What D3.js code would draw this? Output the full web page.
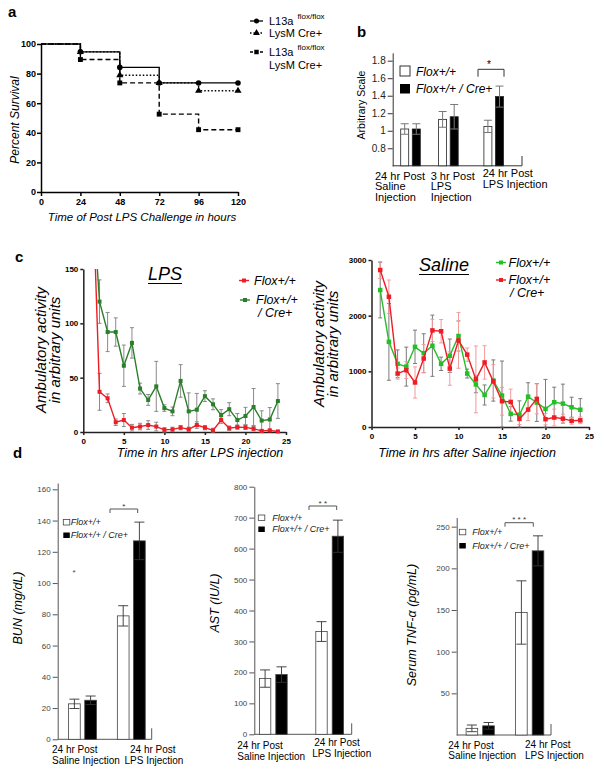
<!DOCTYPE html>
<html><head><meta charset="utf-8">
<script src="https://cdn.jsdelivr.net/npm/d3@7"></script>
<style>
body{margin:0;background:#fff;}
svg{display:block;}
</style></head><body>
<svg id="fig" width="604" height="775"></svg>
<script>
// ================= DATA =================
// Panel a : Kaplan-Meier survival
const survHours    = [0, 24, 48, 72, 96, 120];
const survFloxFlox = [100, 94.7, 84.2, 73.7, 73.7, 73.7];
const survLysMCre  = [100, 94.7, 78.9, 73.7, 68.4, 68.4];
const survFloxLysM = [100, 89.5, 73.7, 52.6, 42.1, 42.1];
const survXTicks   = [0, 24, 48, 72, 96, 120];
const survYTicks   = [0, 20, 40, 60, 80, 100];

// Panel b
const bCats     = ["24h Saline", "3h LPS", "24h LPS"];
const bCatLines = [["24 hr Post", "Saline", "Injection"], ["3 hr Post", "LPS", "Injection"], ["24 hr Post", "LPS Injection"]];
const bFlox     = [1.02, 1.13, 1.05];
const bFloxErr  = [0.06, 0.09, 0.07];
const bCre      = [1.02, 1.16, 1.39];
const bCreErr   = [0.06, 0.14, 0.12];
const bYTicks   = [0.8, 1, 1.2, 1.4, 1.6, 1.8];

// Panel c
const hours       = [1,2,3,4,5,6,7,8,9,10,11,12,13,14,15,16,17,18,19,20,21,22,23,24];
const cXTicks     = [0, 5, 10, 15, 20, 25];
const lpsFlox     = [260, 37, 31, 9, 11, 4, 5, 6.4, 5, 2, 2.4, 4, 2.5, 6.4, 4, 1.5, 11, 3.5, 4.5, 4.3, 3, 1, 1.5, 0.5];
const lpsFloxErr  = [30, 17, 4, 3, 6, 3, 3, 4, 4, 2, 2, 2, 2, 3, 2, 2, 3, 2, 2, 2, 2, 1, 1, 1];
const lpsCre      = [233, 120, 92, 92, 61, 82, 40, 29.5, 42, 22, 19, 47, 19, 20.5, 33, 25.5, 15.6, 21, 11, 14.7, 23, 10.5, 11.5, 28.5];
const lpsCreErr   = [30, 20, 18, 13, 19, 14, 5, 5, 23, 3, 4, 15, 17, 15, 5, 5, 5, 6, 6, 8, 17, 9, 11, 16];
const lpsYTicks   = [0, 50, 100, 150];
const salFlox     = [2460, 1530, 1135, 1085, 1440, 1325, 1460, 1135, 1280, 1635, 960, 765, 575, 835, 565, 235, 220, 545, 440, 325, 445, 420, 355, 310];
const salFloxErr  = [500, 690, 250, 350, 300, 350, 550, 120, 300, 270, 80, 150, 180, 370, 620, 130, 250, 250, 340, 530, 270, 350, 180, 200];
const salCre      = [2820, 2340, 960, 1020, 800, 1230, 1735, 1720, 1050, 1555, 1300, 855, 1160, 820, 463, 450, 145, 313, 505, 140, 170, 150, 110, 120];
const salCreErr   = [150, 300, 100, 150, 280, 250, 200, 210, 300, 500, 120, 600, 300, 300, 250, 230, 100, 200, 270, 100, 150, 80, 60, 60];
const salYTicks   = [0, 1000, 2000, 3000];

// Panel d
const dCats      = ["Saline", "LPS"];
const bunFlox    = [22.7, 79],  bunFloxErr = [3, 6.5],  bunCre = [25, 127],  bunCreErr = [2.7, 12];
const astFlox    = [180, 332],  astFloxErr = [28, 32],  astCre = [193, 640], astCreErr = [25, 52];
const tnfFlox    = [8, 147],    tnfFloxErr = [4, 38],   tnfCre = [11, 221],  tnfCreErr = [4, 18];
const bunTicks   = [0, 20, 40, 60, 80, 100, 120, 140, 160];
const astTicks   = [0, 100, 200, 300, 400, 500, 600, 700, 800];
const tnfTicks   = [50, 100, 150, 200, 250];

// ================= DRAWING =================
const F = "'Liberation Sans', Arial, Helvetica, sans-serif";
const svg = d3.select('#fig');
svg.append('rect').attr('width', 604).attr('height', 775).attr('fill', '#fff');

function txt(g, x, y, s, o = {}) {
  const t = g.append('text').attr('x', x).attr('y', y).text(s)
    .attr('font-family', F).attr('font-size', o.size || 11).attr('fill', o.fill || '#000');
  if (o.bold) t.attr('font-weight', 'bold');
  if (o.italic) t.attr('font-style', 'italic');
  if (o.anchor) t.attr('text-anchor', o.anchor);
  if (o.rotate) t.attr('transform', `rotate(-90,${x},${y})`);
  return t;
}
function styleAxis(g, o) {
  g.attr('font-family', null).attr('font-size', null);
  g.select('.domain').attr('stroke', o.color || '#000').attr('stroke-width', o.width || 1);
  g.selectAll('.tick line').attr('stroke', o.color || '#000').attr('stroke-width', o.width || 1);
  g.selectAll('.tick text').attr('font-family', F).attr('font-size', o.size || 9)
    .attr('font-weight', o.bold ? 'bold' : 'normal').attr('fill', o.text || '#000');
}

// Panel letters
[['a', 8, 17], ['b', 357, 37], ['c', 15, 262], ['d', 13, 458]].forEach(([l, x, y]) =>
  txt(svg, x, y, l, { size: 15, bold: true }));

// ---------- Panel a ----------
{
  const g = svg.append('g');
  const x = d3.scaleLinear().domain([0, 120]).range([41, 238]);
  const y = d3.scaleLinear().domain([0, 100]).range([192, 44]);
  const xa = g.append('g').attr('transform', 'translate(0,192)')
    .call(d3.axisBottom(x).tickValues(survXTicks).tickSize(4).tickSizeOuter(0).tickPadding(3));
  styleAxis(xa, { width: 1.5, size: 9, bold: true });
  const ya = g.append('g').attr('transform', 'translate(41,0)')
    .call(d3.axisLeft(y).tickValues(survYTicks).tickSize(4).tickSizeOuter(0).tickPadding(1));
  styleAxis(ya, { width: 1.5, size: 9, bold: true });
  txt(g, 142, 221, 'Time of Post LPS Challenge in hours', { size: 11.5, italic: true, anchor: 'middle' });
  txt(g, 19, 120, 'Percent Survival', { size: 12, italic: true, anchor: 'middle', rotate: true });

  const series = [
    { vals: survFloxLysM, dash: '5,3', sym: d3.symbolSquare, size: 24 },
    { vals: survLysMCre, dash: '1.5,2', sym: d3.symbolTriangle, size: 22 },
    { vals: survFloxFlox, dash: null, sym: d3.symbolCircle, size: 24 }
  ];
  const line = d3.line().x(d => x(d[0])).y(d => y(d[1])).curve(d3.curveStepAfter);
  series.forEach(s => {
    const pts = survHours.map((h, i) => [h, s.vals[i]]);
    g.append('path').attr('d', line(pts)).attr('fill', 'none').attr('stroke', '#000')
      .attr('stroke-width', 1.4).attr('stroke-dasharray', s.dash);
    g.selectAll(null).data(pts.slice(1)).enter().append('path')
      .attr('d', d3.symbol().type(s.sym).size(s.size))
      .attr('transform', d => `translate(${x(d[0])},${y(d[1])})`).attr('fill', '#000');
  });
  // legend
  const leg = [
    { y: 21, dash: null, sym: d3.symbolCircle, lines: [['L13a', 'flox/flox']] },
    { y: 33, dash: '1.5,2', sym: d3.symbolTriangle, lines: [['LysM Cre+', null]] },
    { y: 52, dash: '3,2', sym: d3.symbolSquare, lines: [['L13a', 'flox/flox'], ['LysM Cre+', null]] }
  ];
  leg.forEach(l => {
    g.append('line').attr('x1', 250).attr('x2', 263).attr('y1', l.y).attr('y2', l.y)
      .attr('stroke', '#000').attr('stroke-width', 1.3).attr('stroke-dasharray', l.dash);
    g.append('path').attr('d', d3.symbol().type(l.sym).size(20)).attr('transform', `translate(256.5,${l.y})`);
    l.lines.forEach((ln, k) => {
      const t = txt(g, 269, l.y + 4 + k * 13, ln[0], { size: 11 });
      if (ln[1]) t.append('tspan').attr('dx', 4).attr('dy', -6).attr('font-size', 8).text(ln[1]);
    });
  });
}

// ---------- Panel b ----------
{
  const g = svg.append('g');
  const y = d3.scaleLinear().domain([0.6, 1.89]).range([165.8, 52.8]);
  const xc = d3.scaleOrdinal().domain(bCats).range([410.5, 448.4, 493.7]);
  const w = 8, gap = 3.6;
  const ya = g.append('g').attr('transform', 'translate(392.7,0)')
    .call(d3.axisLeft(y).tickValues(bYTicks).tickFormat(d3.format('~g')).tickSize(5).tickSizeOuter(0).tickPadding(2));
  styleAxis(ya, { color: '#333', width: 1, size: 10, text: '#222' });
  g.append('path').attr('d', `M392.7,165.8H522V156`).attr('fill', 'none').attr('stroke', '#333');
  txt(g, 365, 105, 'Arbitrary Scale', { size: 10.5, anchor: 'middle', rotate: true });

  const rows = bCats.map((c, i) => ({ c, i }));
  const ser = [
    { vals: bFlox, err: bFloxErr, fill: '#fff', off: -gap / 2 - w },
    { vals: bCre, err: bCreErr, fill: '#000', off: gap / 2 }
  ];
  ser.forEach(s => {
    g.selectAll(null).data(rows).enter().append('rect')
      .attr('x', d => xc(d.c) + s.off).attr('width', w)
      .attr('y', d => y(s.vals[d.i])).attr('height', d => y(0.6) - y(s.vals[d.i]))
      .attr('fill', s.fill).attr('stroke', '#222').attr('stroke-width', 0.8);
    g.selectAll(null).data(rows).enter().append('path')
      .attr('d', d => {
        const cx = xc(d.c) + s.off + w / 2, t = y(s.vals[d.i] + s.err[d.i]), b = y(s.vals[d.i] - s.err[d.i]);
        return `M${cx},${t}V${b}M${cx - 4},${t}H${cx + 4}M${cx - 4},${b}H${cx + 4}`;
      }).attr('stroke', '#777').attr('stroke-width', 1).attr('fill', 'none');
  });
  g.append('path').attr('d', 'M478,76.7V69.3H504V76.7').attr('fill', 'none').attr('stroke', '#333');
  txt(g, 489, 68, '*', { size: 10, anchor: 'middle' });
  // legend
  g.append('rect').attr('x', 400).attr('y', 66).attr('width', 10).attr('height', 10).attr('fill', '#fff').attr('stroke', '#333');
  g.append('rect').attr('x', 400).attr('y', 84).attr('width', 10).attr('height', 9.5).attr('fill', '#000');
  txt(g, 416, 75.5, 'Flox+/+', { size: 12, italic: true });
  txt(g, 416, 93, 'Flox+/+ / Cre+', { size: 12, italic: true });
  // category labels
  const lx = [375, 430.7, 482.7], ly0 = [179.5, 179.5, 177];
  bCatLines.forEach((ls, i) => ls.forEach((s, k) => txt(g, lx[i], ly0[i] + k * 10.5, s, { size: 11 })));
}

// ---------- Panel c ----------
function activityPanel(o) {
  const g = svg.append('g');
  const x = d3.scaleLinear().domain([0, 25]).range(o.xr);
  const y = d3.scaleLinear().domain(o.yd).range(o.yr);
  const xa = g.append('g').attr('transform', `translate(0,${o.yr[0]})`)
    .call(d3.axisBottom(x).tickValues(cXTicks).tickSize(3).tickSizeOuter(0).tickPadding(3));
  styleAxis(xa, { color: '#222', width: 1.5, size: 8, bold: true });
  const ya = g.append('g').attr('transform', `translate(${o.xr[0]},0)`)
    .call(d3.axisLeft(y).tickValues(o.yt).tickFormat(d3.format('d')).tickSize(3).tickSizeOuter(0).tickPadding(2));
  styleAxis(ya, { color: '#222', width: 1.5, size: 8, bold: true });
  const cid = 'clip' + o.id;
  g.append('clipPath').attr('id', cid).append('rect')
    .attr('x', o.xr[0]).attr('y', o.yr[1]).attr('width', o.xr[1] - o.xr[0] + 10).attr('height', o.yr[0] - o.yr[1] + 5);
  const pg = g.append('g').attr('clip-path', `url(#${cid})`);
  const line = d3.line().x(d => x(d.h)).y(d => y(d.v));
  // error bars first
  o.series.forEach(s => {
    const pts = hours.map((h, i) => ({ h, v: s.vals[i], e: s.err[i] }));
    pg.selectAll(null).data(pts).enter().append('path')
      .attr('d', d => {
        const cx = x(d.h), t = y(d.v + d.e), b = y(Math.max(0, d.v - d.e));
        return `M${cx},${t}V${b}M${cx - 2},${t}H${cx + 2}M${cx - 2},${b}H${cx + 2}`;
      }).attr('stroke', s.errColor).attr('stroke-width', 1).attr('fill', 'none');
  });
  o.series.forEach(s => {
    const pts = hours.map((h, i) => ({ h, v: s.vals[i] }));
    pg.append('path').attr('d', line(pts)).attr('fill', 'none').attr('stroke', s.color).attr('stroke-width', 1.4);
    pg.selectAll(null).data(pts).enter().append('rect')
      .attr('x', d => x(d.h) - s.ms / 2).attr('y', d => y(d.v) - s.ms / 2)
      .attr('width', s.ms).attr('height', s.ms).attr('fill', s.color);
  });
  // title
  const tt = txt(g, o.title[1], o.title[2], o.title[0], { size: 18, italic: true, anchor: 'middle' });
  const tw = tt.node().getComputedTextLength();
  g.append('line').attr('x1', o.title[1] - tw / 2).attr('x2', o.title[1] + tw / 2)
    .attr('y1', o.title[2] + 3.5).attr('y2', o.title[2] + 3.5).attr('stroke', '#000').attr('stroke-width', 1.1);
  // axis titles
  txt(g, o.ytx[0], o.yty, 'Ambulatory activity', { size: 15, italic: true, anchor: 'middle', rotate: true });
  txt(g, o.ytx[1], o.yty, 'in arbitrary units', { size: 15, italic: true, anchor: 'middle', rotate: true });
  txt(g, o.xt[1], o.xt[2], o.xt[0], { size: 12.5, italic: true, anchor: 'middle' });
  // legend
  o.legend.forEach(l => {
    g.append('line').attr('x1', l.x).attr('x2', l.x + 10).attr('y1', l.y).attr('y2', l.y).attr('stroke', l.color).attr('stroke-width', 1.4);
    g.append('rect').attr('x', l.x + 3).attr('y', l.y - 2).attr('width', 4).attr('height', 4).attr('fill', l.color);
    l.lines.forEach((s, k) => txt(g, l.tx[k], l.ty[k], s, { size: 12.5, italic: true }));
  });
}

activityPanel({
  id: 'L', xr: [83.3, 286], yd: [0, 150], yr: [432, 269], yt: lpsYTicks,
  series: [
    { vals: lpsFlox, err: lpsFloxErr, color: '#ee1c25', errColor: '#8a8a8a', ms: 4 },
    { vals: lpsCre, err: lpsCreErr, color: '#2a7f2a', errColor: '#8a8a8a', ms: 4 }
  ],
  title: ['LPS', 165, 280],
  ytx: [46, 60], yty: 350,
  xt: ['Time in hrs after LPS injection', 200, 457],
  legend: [
    { x: 239, y: 280.5, color: '#ee1c25', lines: ['Flox+/+'], tx: [254], ty: [284.5] },
    { x: 240, y: 300, color: '#2a7f2a', lines: ['Flox+/+', '/ Cre+'], tx: [256, 258], ty: [304, 317] }
  ]
});

activityPanel({
  id: 'S', xr: [371.5, 589], yd: [0, 3000], yr: [427, 260], yt: salYTicks,
  series: [
    { vals: salFlox, err: salFloxErr, color: '#22c025', errColor: '#7a7a7a', ms: 4.5 },
    { vals: salCre, err: salCreErr, color: '#ee1c25', errColor: '#f39a9a', ms: 4.5 }
  ],
  title: ['Saline', 444, 271],
  ytx: [324, 338], yty: 344,
  xt: ['Time in hrs after Saline injection', 467, 457],
  legend: [
    { x: 496, y: 262.5, color: '#22c025', lines: ['Flox+/+'], tx: [508.5], ty: [267] },
    { x: 496, y: 280, color: '#ee1c25', lines: ['Flox+/+', '/ Cre+'], tx: [508.5, 510], ty: [284, 297] }
  ]
});

// ---------- Panel d ----------
function dPanel(o) {
  const g = svg.append('g');
  const y = d3.scaleLinear().domain(o.yd).range(o.yr);
  const xc = d3.scalePoint().domain(dCats).range(o.centers);
  const w = o.w, gap = o.gap;
  const ya = g.append('g').attr('transform', `translate(${o.ax},0)`)
    .call(d3.axisLeft(y).tickValues(o.ticks).tickSize(5).tickSizeOuter(0).tickPadding(2));
  styleAxis(ya, { color: '#555', width: 1, size: 8, text: '#444' });
  g.append('path').attr('d', `M${o.ax},${y(0)}H${o.axEnd}V${y(0) - 11}`).attr('fill', 'none').attr('stroke', '#555');
  const rows = dCats.map((c, i) => ({ c, i }));
  const ser = [
    { vals: o.flox, err: o.floxErr, fill: '#fff', off: -gap / 2 - w },
    { vals: o.cre, err: o.creErr, fill: '#000', off: gap / 2 }
  ];
  ser.forEach(s => {
    g.selectAll(null).data(rows).enter().append('rect')
      .attr('x', d => xc(d.c) + s.off).attr('width', w)
      .attr('y', d => y(s.vals[d.i])).attr('height', d => y(0) - y(s.vals[d.i]))
      .attr('fill', s.fill).attr('stroke', '#444').attr('stroke-width', 0.8);
    g.selectAll(null).data(rows).enter().append('path')
      .attr('d', d => {
        const cx = xc(d.c) + s.off + w / 2, t = y(s.vals[d.i] + s.err[d.i]), b = y(s.vals[d.i] - s.err[d.i]);
        return `M${cx},${t}V${b}M${cx - 5},${t}H${cx + 5}M${cx - 5},${b}H${cx + 5}`;
      }).attr('stroke', '#333').attr('stroke-width', 0.9).attr('fill', 'none');
  });
  const br = o.bracket;
  g.append('path').attr('d', `M${br[0]},${br[2] + 4}V${br[2]}H${br[1]}V${br[2] + 4}`).attr('fill', 'none').attr('stroke', '#555');
  txt(g, (br[0] + br[1]) / 2, br[2] - 0.5, o.stars, { size: 8, anchor: 'middle', fill: '#333' });
  // legend
  const L = o.legend;
  g.append('rect').attr('x', L[0]).attr('y', L[1]).attr('width', 6.5).attr('height', 5.5).attr('fill', '#fff').attr('stroke', '#444').attr('stroke-width', 0.8);
  g.append('rect').attr('x', L[0]).attr('y', L[2]).attr('width', 6.5).attr('height', 5.5).attr('fill', '#000');
  txt(g, L[3], L[1] + 5.5, 'Flox+/+', { size: 9, italic: true, fill: '#222' });
  txt(g, L[3], L[2] + 5.5, 'Flox+/+ / Cre+', { size: 9, italic: true, fill: '#222' });
  txt(g, o.yt[1], o.yt[2], o.yt[0], { size: 12.5, italic: true, anchor: 'middle', rotate: true });
  o.labels.forEach(l => txt(g, l[0], l[1], l[2], { size: 10 }));
  if (o.extra) o.extra(g);
}

dPanel({
  yd: [0, 164], yr: [739.3, 483.05], ax: 57.7, axEnd: 151.7, ticks: bunTicks,
  centers: [82.5, 131.3], w: 11.7, gap: 4.5,
  flox: bunFlox, floxErr: bunFloxErr, cre: bunCre, creErr: bunCreErr,
  bracket: [110, 137.7, 509], stars: '*',
  legend: [63.3, 519.5, 532.5, 70.7],
  yt: ['BUN (mg/dL)', 22, 608],
  labels: [[52, 752.5, '24 hr Post'], [52, 763.5, 'Saline Injection'], [130, 752.5, '24 hr Post'], [124.5, 763.5, 'LPS Injection']],
  extra: g => txt(g, 74, 575, '*', { size: 8, anchor: 'middle', fill: '#444' })
});

dPanel({
  yd: [0, 800], yr: [734.3, 486.7], ax: 254.3, axEnd: 351.7, ticks: astTicks,
  centers: [273.3, 329.7], w: 11.4, gap: 5,
  flox: astFlox, floxErr: astFloxErr, cre: astCre, creErr: astCreErr,
  bracket: [309, 336.7, 506], stars: '* *',
  legend: [258.3, 515, 526.5, 272.3],
  yt: ['AST (IU/L)', 219, 603],
  labels: [[237.3, 748.5, '24 hr Post'], [237.3, 760, 'Saline Injection'], [314.3, 745.5, '24 hr Post'], [312.3, 757, 'LPS Injection']]
});

dPanel({
  yd: [0, 261], yr: [735, 517.5], ax: 456.7, axEnd: 551, ticks: tnfTicks,
  centers: [480.2, 529.7], w: 11.6, gap: 5,
  flox: tnfFlox, floxErr: tnfFloxErr, cre: tnfCre, creErr: tnfCreErr,
  bracket: [505, 533.3, 522.7], stars: '* * *',
  legend: [459.3, 529.3, 543, 472.3],
  yt: ['Serum TNF-\u03b1 (pg/mL)', 416, 625],
  labels: [[448.3, 748.5, '24 hr Post'], [448.3, 759, 'Saline Injection'], [525, 747.5, '24 hr Post'], [525, 758.5, 'LPS Injection']]
});
</script></body></html>
